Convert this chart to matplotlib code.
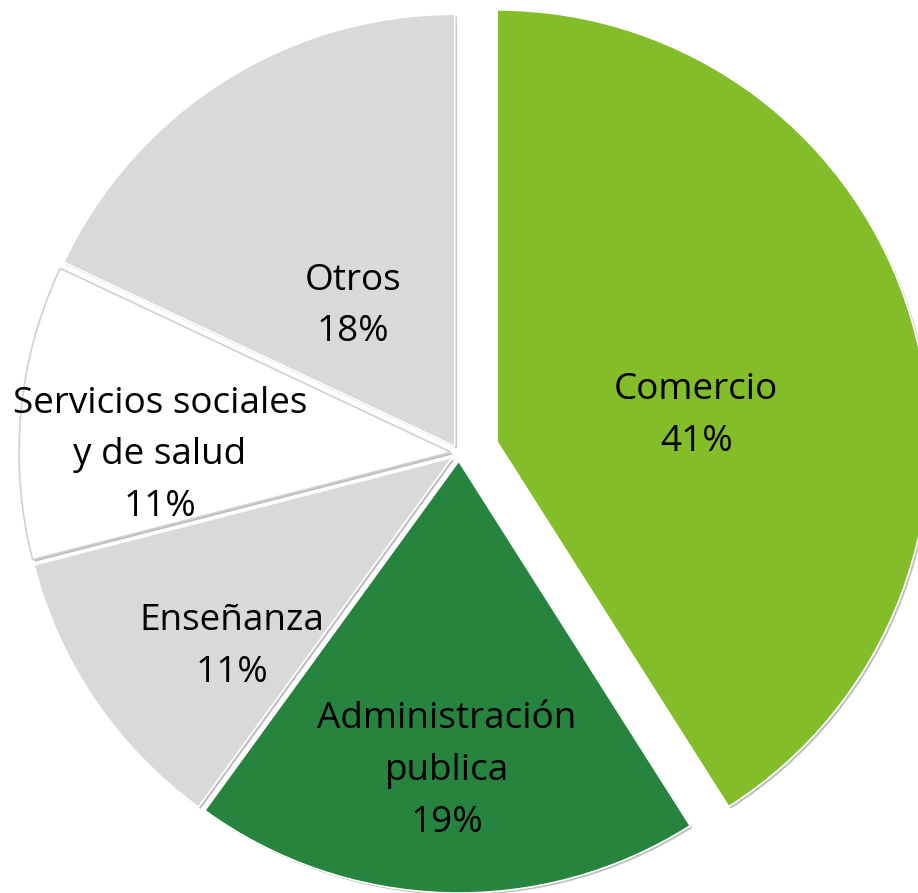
import matplotlib
matplotlib.use("Agg")
import matplotlib.pyplot as plt
import matplotlib.patheffects as pe

categories = ["Comercio", "Administración\npublica", "Enseñanza",
              "Servicios sociales\ny de salud", "Otros"]
values = [41, 19, 11, 11, 18]
colors = ["#84BD2A", "#26843E", "#D9D9D9", "#FFFFFF", "#D9D9D9"]
edge_colors = ["white", "white", "white", "#D0D0D0", "white"]
explode = [0.092, 0.0185, 0.0185, 0.0185, 0.0185]
label_pos = [(0.549, 0.086), (-0.028, -0.736), (-0.525, -0.449),
             (-0.692, -0.005), (-0.245, 0.339)]

fig = plt.figure(figsize=(9.18, 8.93), dpi=100)
ax = fig.add_axes([0, 0, 1, 1])
wedges, _ = ax.pie(values, colors=colors, explode=explode, startangle=90,
                   counterclock=False, radius=1.0,
                   wedgeprops=dict(linewidth=1.2))
for w, ec in zip(wedges, edge_colors):
    w.set_edgecolor(ec)
    w.set_path_effects([pe.SimplePatchShadow(offset=(1.5, -1.5),
                                             shadow_rgbFace="#808080", alpha=0.5),
                        pe.Normal()])

for cat, v, (x, y) in zip(categories, values, label_pos):
    ax.text(x, y, f"{cat}\n{v}%", ha="center", va="center",
            fontsize=26.6, family="Open Sans", linespacing=1.58, color="black")

ax.set_xlim(-1.0625, 1.0625)
ax.set_ylim(-1.0185, 1.0486)
ax.set_aspect("auto")
ax.axis("off")
fig.savefig("out.png", dpi=100)
